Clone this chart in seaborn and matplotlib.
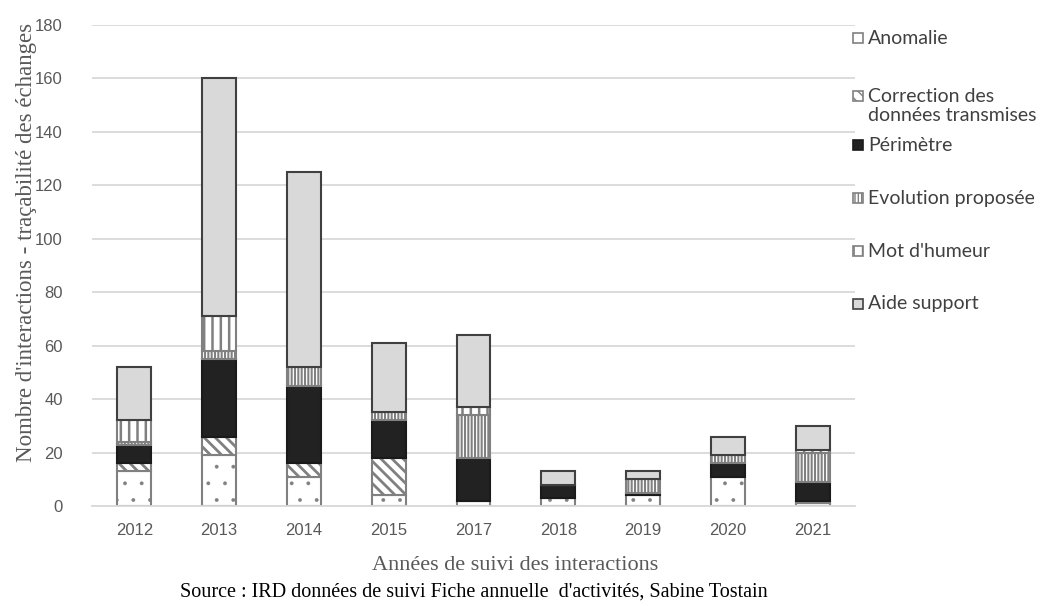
import matplotlib
matplotlib.use("Agg")
import matplotlib.pyplot as plt
import numpy as np
import seaborn as sns
from matplotlib.patches import Rectangle


YEARS = ["2012", "2013", "2014", "2015", "2017", "2018", "2019", "2020", "2021"]
ANOMALIE = [13, 19, 11, 4, 2, 3, 4, 11, 1]
CORRECTION = [3, 7, 5, 14, 0, 0, 0, 0, 1]
PERIMETRE = [7, 29, 29, 14, 16, 5, 1, 5, 7]
EVOLUTION = [1, 3, 7, 3, 16, 0, 5, 3, 11]
MOT_HUMEUR = [8, 13, 0, 0, 3, 0, 0, 0, 1]
AIDE_SUPPORT = [20, 89, 73, 26, 27, 5, 3, 7, 9]

SERIES_LABELS = [
    "Anomalie",
    "Correction des\ndonnées transmises",
    "Périmètre",
    "Evolution proposée",
    "Mot d'humeur",
    "Aide support",
]
SERIES_VALUES = [ANOMALIE, CORRECTION, PERIMETRE, EVOLUTION, MOT_HUMEUR, AIDE_SUPPORT]

GRAY = "#808080"
STYLES = {
    "Anomalie": dict(face="white", edge=GRAY, hatch=".", hlw=0.3),
    "Correction des\ndonnées transmises": dict(face="white", edge=GRAY, hatch="\\\\\\", hlw=2.0),
    "Périmètre": dict(face="#222222", edge="#1a1a1a", hatch=None, hlw=1.0),
    "Evolution proposée": dict(face="white", edge=GRAY, hatch="|||||", hlw=1.5),
    "Mot d'humeur": dict(face="white", edge=GRAY, hatch="||", hlw=1.8),
    "Aide support": dict(face="#d9d9d9", edge="#404040", hatch=None, hlw=1.0),
}

# legend rows, pixel centres from the top of the figure
LEGEND_Y = [38, 106, 145, 198, 251, 304]

W, H = 1043, 606

sns.set_theme(style="whitegrid", rc={"grid.color": "#d9d9d9", "grid.linewidth": 1.3})
plt.rcParams["font.family"] = ["Liberation Sans", "DejaVu Sans"]

fig = plt.figure(figsize=(W / 100, H / 100), dpi=100)
ax = fig.add_axes([92 / W, 1 - 506 / H, (855 - 92) / W, (506 - 25) / H])

bottom = np.zeros(len(YEARS))
for label, values in zip(SERIES_LABELS, SERIES_VALUES):
    st = STYLES[label]
    with plt.rc_context({"hatch.linewidth": st["hlw"]}):
        sns.barplot(
            x=YEARS,
            y=values,
            order=YEARS,
            bottom=bottom.copy(),
            width=0.4,
            color=st["face"],
            edgecolor=st["edge"],
            hatch=st["hatch"],
            linewidth=1.5,
            saturation=1,
            errorbar=None,
            ax=ax,
        )
    bottom += np.array(values)

ax.set_xlim(-0.5, len(YEARS) - 0.5)
ax.set_ylim(0, 180)
ax.set_yticks(range(0, 181, 20))
ax.grid(axis="x", visible=False)
ax.set_axisbelow(True)
for side in ["left", "right", "top"]:
    ax.spines[side].set_visible(False)
ax.spines["bottom"].set_color("#d9d9d9")
ax.spines["bottom"].set_linewidth(1.3)
ax.tick_params(axis="both", length=0, labelsize=12, labelcolor="#595959")
ax.tick_params(axis="x", pad=12)
ax.tick_params(axis="y", pad=21)

ax.set_xlabel("Années de suivi des interactions", family="Liberation Serif",
              fontsize=16, color="#595959")
ax.xaxis.set_label_coords((515 - 92) / (855 - 92), (506 - 566) / (506 - 25))
ax.xaxis.label.set_va("center")
ax.set_ylabel("Nombre d'interactions - traçabilité des échanges", family="Liberation Serif",
              fontsize=16.5, color="#595959")
ax.yaxis.set_label_coords((27 - 92) / (855 - 92), (506 - 242) / (506 - 25))
ax.yaxis.label.set_va("center")

fig.text(474 / W, 1 - 592 / H,
         "Source : IRD données de suivi Fiche annuelle  d'activités, Sabine Tostain",
         family="Liberation Serif", fontsize=14.5, color="black", ha="center", va="center")

# legend drawn by hand so the rows keep the reference's even spacing
for label, ypx in zip(SERIES_LABELS, LEGEND_Y):
    st = STYLES[label]
    sq_y = ypx - 5
    if "\n" in label:
        sq_y = 96 - 5
    with plt.rc_context({"hatch.linewidth": min(st["hlw"], 1.0)}):
        sq = Rectangle((853 / W, 1 - (sq_y + 10) / H), 10 / W, 10 / H,
                       transform=fig.transFigure, facecolor=st["face"],
                       edgecolor=st["edge"], hatch=st["hatch"], linewidth=1.2)
    fig.add_artist(sq)
    fig.text(868 / W, 1 - ypx / H, label, family=["Lato", "DejaVu Sans"], fontsize=14,
             color="#404040", ha="left", va="center", linespacing=1.1)

fig.savefig("out.png", dpi=100)
